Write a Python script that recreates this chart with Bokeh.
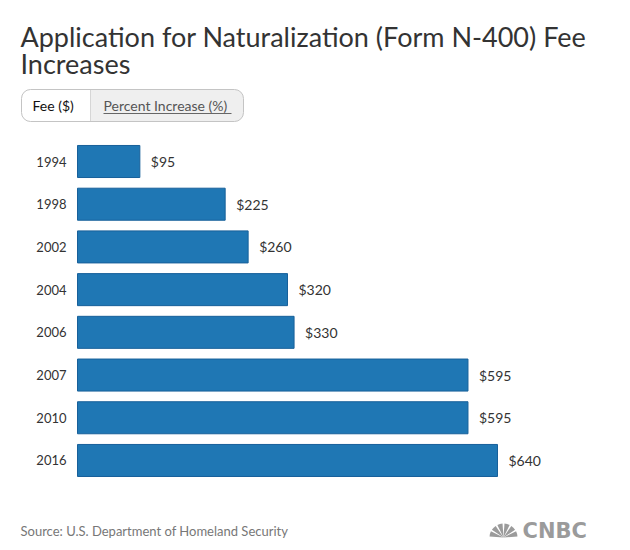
import math
from bokeh.plotting import figure
from bokeh.models import Range1d, ColumnDataSource
from bokeh.core.properties import value
from bokeh.embed import file_html
from bokeh.resources import INLINE

# ---------------- data ----------------
years = ["1994", "1998", "2002", "2004", "2006", "2007", "2010", "2016"]
fees = [95, 225, 260, 320, 330, 595, 595, 640]
fee_labels = ["$" + str(v) for v in fees]
title_lines = ["Application for Naturalization (Form N-400) Fee", "Increases"]
tab_labels = ["Fee ($)", "Percent Increase (%)"]
source_note = "Source: U.S. Department of Homeland Security"
logo_text = "CNBC"

# ---------------- layout helpers (page pixels -> data) ----------------
W, H = 628, 548
PX = 0.65625      # pixels per dollar
ROW = 42.71       # pixels per row
ZERO_X = 77       # page x of $0
ROW0_Y = 161      # page y of first row centre


def dx(px):
    return (px - ZERO_X) / PX


def dy(py):
    return (py - ROW0_Y) / ROW


FONT = value("Lato")

p = figure(width=W, height=H,
           x_range=Range1d(dx(0), dx(W)),
           y_range=Range1d(dy(H), dy(0)),
           x_axis_type=None, y_axis_type=None,
           output_backend="svg", toolbar_location=None, min_border=0)
p.grid.visible = False
p.outline_line_color = None
p.background_fill_color = "white"
p.border_fill_color = "white"

# ---------------- title ----------------
p.text(x=[dx(20)], y=[dy(36)], text=[title_lines[0]], text_font=FONT,
       text_font_size="27px", text_color="#333333", text_baseline="middle")
p.text(x=[dx(20)], y=[dy(63)], text=[title_lines[1]], text_font=FONT,
       text_font_size="27px", text_color="#333333", text_baseline="middle")

# ---------------- tabs ----------------
p.quad(left=[dx(21)], right=[dx(243)], top=[dy(89)], bottom=[dy(121)],
       fill_color="#efefef", line_color=None, border_radius=9)
p.quad(left=[dx(21)], right=[dx(90)], top=[dy(89)], bottom=[dy(121)],
       fill_color="white", line_color=None, border_radius=(9, 0, 0, 9))
p.segment(x0=[dx(90)], x1=[dx(90)], y0=[dy(89)], y1=[dy(121)],
          line_color="#d6d6d6", line_width=1)
p.quad(left=[dx(21)], right=[dx(243)], top=[dy(89)], bottom=[dy(121)],
       fill_color=None, line_color="#c4c4c4", line_width=1, border_radius=9)
p.text(x=[dx(32)], y=[dy(105)], text=[tab_labels[0]], text_font=FONT,
       text_font_size="14px", text_color="#111111", text_baseline="middle")
p.text(x=[dx(103)], y=[dy(105)], text=[tab_labels[1]], text_font=FONT,
       text_font_size="14px", text_color="#555555", text_baseline="middle")
p.segment(x0=[dx(103)], x1=[dx(231)], y0=[dy(113)], y1=[dy(113)],
          line_color="#666666", line_width=1)

# ---------------- bars ----------------
src = ColumnDataSource(dict(y=list(range(len(years))), fee=fees,
                            year=years, label=fee_labels))
p.hbar(y="y", left=0, right="fee", height=0.75, source=src,
       fill_color="#1f77b4", line_color="#17609a", line_width=1)
p.text(x=0, y="y", text="year", source=src, x_offset=-11,
       text_align="right", text_baseline="middle", text_font=FONT,
       text_font_size="13px", text_color="#333333")
p.text(x="fee", y="y", text="label", source=src, x_offset=11,
       text_align="left", text_baseline="middle", text_font=FONT,
       text_font_size="14px", text_color="#333333")

# ---------------- footer ----------------
p.text(x=[dx(20)], y=[dy(530)], text=[source_note], text_font=FONT,
       text_font_size="13px", text_color="#777777", text_baseline="middle")

# CNBC peacock (six feathers)
angles = [(-180 + 30 * i) for i in range(6)]
p.wedge(x=[dx(503)] * 6, y=[dy(537)] * 6, radius=14, radius_units="screen",
        start_angle=[math.radians(-a - 26) for a in angles],
        end_angle=[math.radians(-a - 4) for a in angles],
        fill_color="#9b9b9b", line_color=None)
p.text(x=[dx(522)], y=[dy(530)], text=[logo_text],
       text_font=value("DejaVu Sans"), text_font_style="bold",
       text_font_size="21px", text_color="#9b9b9b", text_baseline="middle")

open("out.html", "w").write(file_html(p, INLINE))
